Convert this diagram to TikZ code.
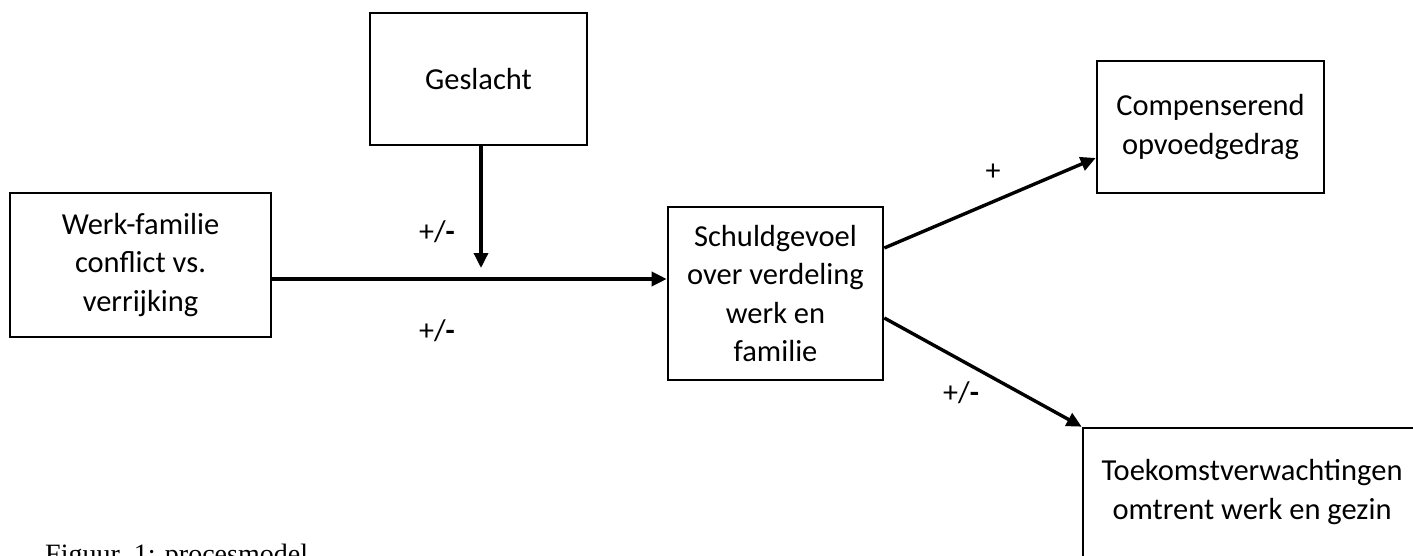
\documentclass[tikz,border=0pt]{standalone}
\usepackage{fontspec}
\setmainfont{Carlito}
\newfontfamily\capfont{Liberation Serif}
\usetikzlibrary{arrows.meta}
\begin{document}
\begin{tikzpicture}[x=1pt,y=-1pt,
  box/.style={draw,line width=2.6pt,align=center,inner sep=0pt,
    font=\fontsize{30.5}{38.5}\selectfont},
  arr/.style={line width=3.4pt,-{Triangle[length=15pt,width=14pt]}},
  lbl/.style={font=\fontsize{30}{34}\selectfont,inner sep=0pt}]
\useasboundingbox (0,0) rectangle (1413,556);
\begin{scope}
\clip (0,0) rectangle (1413,556);
\node[box,minimum width=217pt,minimum height=132pt] (gesl) at (478.5,79) {Geslacht};
\node[box,minimum width=261pt,minimum height=144pt] (werk) at (140.5,265) {Werk-familie\\conflict vs.\\verrijking};
\node[box,minimum width=215pt,minimum height=173pt] (schuld) at (775.5,293.5) {Schuldgevoel\\over verdeling\\werk en\\familie};
\node[box,minimum width=227pt,minimum height=132pt] (comp) at (1210.5,127) {Compenserend\\opvoedgedrag};
\node[box,minimum width=342pt,minimum height=146pt] (toek) at (1254,501) {};
\node[font=\fontsize{30.5}{38.5}\selectfont,align=center] (toektxt) at (1252,492) {Toekomstverwachtingen\\omtrent werk en gezin};
\coordinate (mid) at (0,279);
\coordinate (gtip) at (481,268);
\coordinate (s1) at (0,248);
\coordinate (c1) at (0,158);
\coordinate (s2) at (0,318);
\draw[arr] (werk.east |- mid) -- (schuld.west |- mid);
\draw[arr] (gtip |- gesl.south) -- (gtip);
\draw[arr] (schuld.east |- s1) -- (comp.west |- c1);
\draw[arr] (schuld.east |- s2) -- (toek.north west);
\node[lbl] (l1) at (437,232) {+/\textbf{-}};
\node[lbl] (l2) at (437,331) {+/\textbf{-}};
\node[lbl] (l3) at (993,172) {+};
\node[lbl] (l4) at (961,393) {+/\textbf{-}};
\node[anchor=base west,inner sep=0pt,font=\capfont\fontsize{28}{32}\selectfont] (cap) at (45,563) {Figuur\ \ 1: procesmodel};
\end{scope}
\end{tikzpicture}
\end{document}
